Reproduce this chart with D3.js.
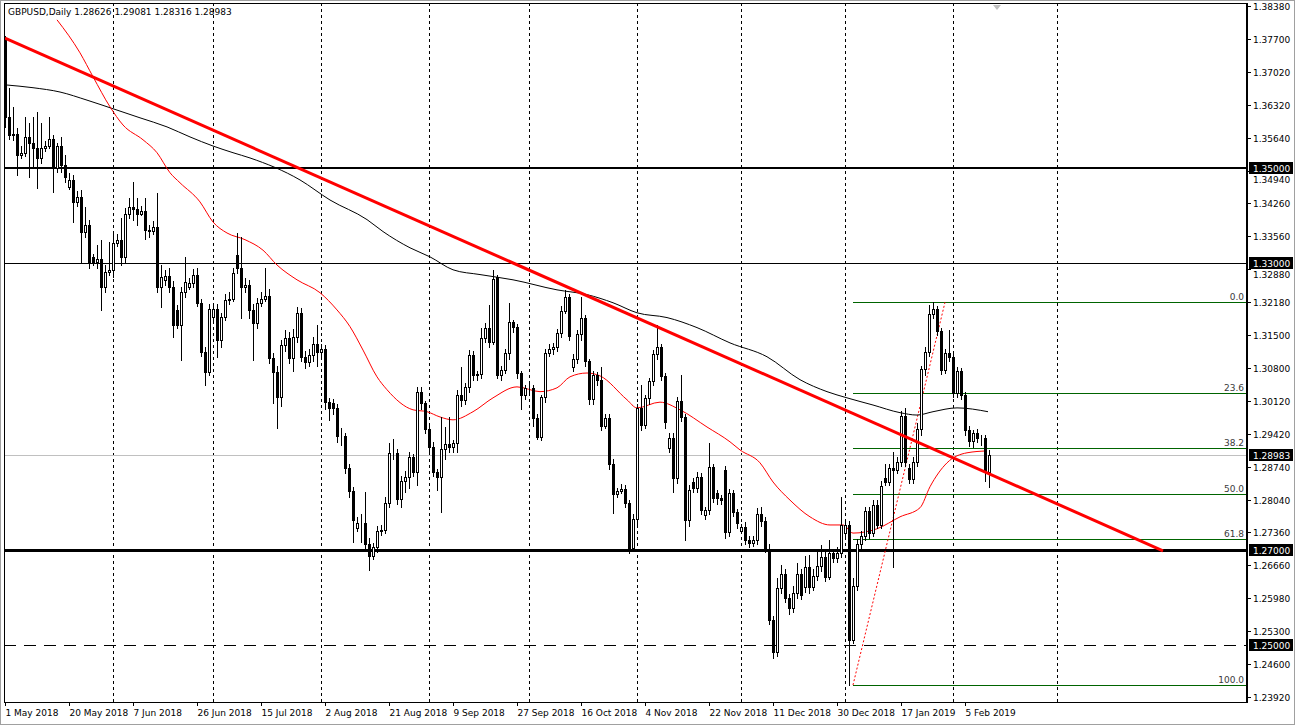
<!DOCTYPE html>
<html><head><meta charset="utf-8">
<script src="https://cdn.jsdelivr.net/npm/d3@7"></script>
<style>body{margin:0;background:#fff;}svg{display:block;font-family:"DejaVu Sans",sans-serif;}</style>
</head><body><svg id="c" width="1295" height="725"></svg>
<script>
const symbolTitle = "GBPUSD,Daily  1.28626 1.29081 1.28316 1.28983";
const opens = [1.3771,1.3605,1.3568,1.3570,1.3527,1.3531,1.3564,1.3552,1.3541,1.3520,
1.3541,1.3545,1.3560,1.3499,1.3545,1.3505,1.3460,1.3474,1.3428,1.3438,
1.3365,1.3380,1.3313,1.3302,1.3308,1.3250,1.3281,1.3285,1.3342,1.3348,
1.3313,1.3403,1.3417,1.3413,1.3403,1.3409,1.3369,1.3367,1.3376,1.3250,
1.3264,1.3272,1.3250,1.3202,1.3171,1.3239,1.3250,1.3258,1.3275,1.3217,
1.3114,1.3072,1.3187,1.3204,1.3139,1.3187,1.3223,1.3225,1.3317,1.3289,
1.3250,1.3254,1.3202,1.3175,1.3217,1.3225,1.3231,1.3101,1.3072,1.3019,
1.3128,1.3143,1.3101,1.3145,1.3196,1.3103,1.3093,1.3107,1.3131,1.3114,
1.3120,1.3009,1.3007,1.2997,1.2938,1.2938,1.2871,1.2823,1.2745,1.2756,
1.2756,1.2713,1.2688,1.2705,1.2739,1.2741,1.2798,1.2903,1.2903,1.2806,
1.2844,1.2852,1.2894,1.2863,1.3030,1.3007,1.2953,1.2915,1.2863,1.2852,
1.2911,1.2921,1.2915,1.2923,1.3024,1.3013,1.3040,1.3107,1.3065,1.3068,
1.3143,1.3164,1.3135,1.3270,1.3065,1.3076,1.3111,1.3176,1.3166,1.3070,
1.3024,1.3038,1.3038,1.2976,1.2936,1.3019,1.3111,1.3120,1.3124,1.3153,
1.3200,1.3229,1.3082,1.3099,1.3151,1.3185,1.3095,1.3015,1.3065,1.3055,
1.2959,1.2976,1.2880,1.2817,1.2823,1.2827,1.2798,1.2704,1.2764,1.2997,
1.2961,1.3017,1.3053,1.3109,1.3124,1.3063,1.2913,1.2934,1.2850,1.3011,
1.2978,1.2762,1.2842,1.2829,1.2852,1.2773,1.2783,1.2873,1.2819,1.2808,
1.2867,1.2737,1.2819,1.2779,1.2740,1.2748,1.2720,1.2714,1.2720,1.2775,
1.2760,1.2701,1.2553,1.2486,1.2620,1.2649,1.2599,1.2579,1.2610,1.2649,
1.2622,1.2664,1.2622,1.2645,1.2666,1.2685,1.2643,1.2693,1.2683,1.2693,
1.2735,1.2752,1.2511,1.2624,1.2712,1.2729,1.2781,1.2735,1.2794,1.2752,
1.2850,1.2842,1.2871,1.2867,1.2884,1.2980,1.2871,1.2848,1.2884,1.2953,
1.3078,1.3114,1.3194,1.3204,1.3158,1.3076,1.3111,1.3103,1.3028,1.3074,
1.3024,1.2951,1.2928,1.2944,1.2934,1.2934,1.28626];
const highs = [1.3775,1.3667,1.3627,1.3583,1.3545,1.3606,1.3593,1.3606,1.3616,1.3593,
1.3556,1.3606,1.3568,1.3552,1.3564,1.3527,1.3489,1.3485,1.3450,1.3453,
1.3418,1.3391,1.3320,1.3338,1.3349,1.3295,1.3345,1.3366,1.3360,1.3395,
1.3415,1.3437,1.3470,1.3437,1.3420,1.3437,1.3380,1.3388,1.3447,1.3296,
1.3285,1.3290,1.3262,1.3212,1.3250,1.3313,1.3268,1.3287,1.3290,1.3225,
1.3125,1.3215,1.3215,1.3215,1.3196,1.3235,1.3240,1.3290,1.3363,1.3355,
1.3268,1.3265,1.3215,1.3228,1.3240,1.3290,1.3245,1.3112,1.3085,1.3140,
1.3160,1.3155,1.3162,1.3209,1.3205,1.3115,1.3120,1.3145,1.3171,1.3130,
1.3128,1.3018,1.3015,1.3005,1.2955,1.2945,1.2880,1.2832,1.2768,1.2775,
1.2821,1.2725,1.2715,1.2750,1.2752,1.2810,1.2924,1.2932,1.2912,1.2855,
1.2865,1.2905,1.2900,1.3040,1.3041,1.3012,1.2960,1.2925,1.2870,1.2978,
1.2957,1.2978,1.2930,1.3035,1.3083,1.3050,1.3118,1.3115,1.3075,1.3165,
1.3175,1.3213,1.3286,1.3275,1.3085,1.3120,1.3217,1.3180,1.3172,1.3075,
1.3045,1.3048,1.3045,1.2985,1.3025,1.3120,1.3130,1.3132,1.3162,1.3210,
1.3244,1.3235,1.3110,1.3160,1.3229,1.3192,1.3100,1.3075,1.3072,1.3083,
1.2985,1.2985,1.2890,1.2830,1.2838,1.2835,1.2805,1.2775,1.3005,1.3045,
1.3025,1.3060,1.3118,1.3171,1.3130,1.3070,1.2945,1.2945,1.3020,1.3066,
1.2985,1.2835,1.2850,1.2862,1.2860,1.2790,1.2923,1.2880,1.2825,1.2815,
1.2875,1.2828,1.2825,1.2785,1.2755,1.2758,1.2728,1.2728,1.2788,1.2790,
1.2768,1.2712,1.2562,1.2640,1.2668,1.2660,1.2608,1.2625,1.2672,1.2660,
1.2688,1.2690,1.2660,1.2700,1.2710,1.2695,1.2720,1.2700,1.2705,1.2811,
1.2760,1.2760,1.2640,1.2722,1.2740,1.2790,1.2790,1.2805,1.2805,1.2845,
1.2880,1.2880,1.2905,1.2895,1.2990,1.2997,1.2880,1.2895,1.2965,1.3085,
1.3125,1.3213,1.3219,1.3210,1.3165,1.3120,1.3160,1.3110,1.3082,1.3080,
1.3030,1.2960,1.2950,1.2952,1.2940,1.2940,1.29081];
const lows = [1.3585,1.3560,1.3558,1.3485,1.3520,1.3525,1.3480,1.3501,1.3458,1.3510,
1.3535,1.3540,1.3449,1.3490,1.3490,1.3470,1.3455,1.3386,1.3420,1.3300,
1.3355,1.3290,1.3295,1.3290,1.3202,1.3240,1.3275,1.3270,1.3335,1.3295,
1.3300,1.3395,1.3390,1.3380,1.3400,1.3350,1.3355,1.3360,1.3240,1.3209,
1.3255,1.3240,1.3145,1.3165,1.3097,1.3230,1.3245,1.3250,1.3210,1.3105,
1.3045,1.3065,1.3180,1.3104,1.3125,1.3180,1.3215,1.3220,1.3280,1.3185,
1.3240,1.3185,1.3097,1.3165,1.3210,1.3220,1.3090,1.3008,1.2955,1.3000,
1.3115,1.3090,1.3075,1.3135,1.3095,1.3080,1.3085,1.3095,1.3085,1.3105,
1.2995,1.2972,1.2985,1.2925,1.2920,1.2860,1.2810,1.2717,1.2740,1.2717,
1.2700,1.2658,1.2680,1.2695,1.2730,1.2735,1.2790,1.2890,1.2795,1.2790,
1.2820,1.2830,1.2855,1.2835,1.2995,1.2945,1.2905,1.2855,1.2825,1.2780,
1.2890,1.2905,1.2905,1.2905,1.3000,1.3005,1.3030,1.3055,1.3055,1.3060,
1.3135,1.3125,1.3130,1.3060,1.3055,1.3070,1.3100,1.3155,1.3060,1.2995,
1.3015,1.3030,1.2960,1.2932,1.2930,1.3010,1.3105,1.3110,1.3115,1.3145,
1.3195,1.3140,1.3075,1.3090,1.3140,1.3085,1.3005,1.3005,1.3045,1.2950,
1.2955,1.2870,1.2777,1.2810,1.2818,1.2790,1.2694,1.2698,1.2755,1.2950,
1.2955,1.3005,1.3045,1.3100,1.3055,1.2955,1.2905,1.2822,1.2840,1.2970,
1.2721,1.2750,1.2820,1.2820,1.2775,1.2765,1.2775,1.2800,1.2795,1.2795,
1.2725,1.2728,1.2770,1.2745,1.2735,1.2712,1.2705,1.2708,1.2712,1.2750,
1.2695,1.2545,1.2474,1.2478,1.2610,1.2590,1.2565,1.2570,1.2600,1.2598,
1.2612,1.2610,1.2615,1.2636,1.2655,1.2635,1.2638,1.2675,1.2675,1.2685,
1.2728,1.2418,1.2505,1.2615,1.2700,1.2720,1.2725,1.2728,1.2745,1.2745,
1.2835,1.2835,1.2664,1.2860,1.2875,1.2875,1.2840,1.2840,1.2875,1.2940,
1.3065,1.3105,1.3185,1.3150,1.3068,1.3070,1.3095,1.3020,1.3020,1.3015,
1.2940,1.2918,1.2915,1.2925,1.2920,1.2845,1.28316];
const closes = [1.3605,1.3568,1.3570,1.3527,1.3531,1.3564,1.3552,1.3541,1.3520,1.3541,
1.3545,1.3560,1.3499,1.3545,1.3505,1.3480,1.3474,1.3428,1.3438,1.3365,
1.3380,1.3302,1.3302,1.3308,1.3250,1.3281,1.3285,1.3342,1.3348,1.3313,
1.3403,1.3417,1.3413,1.3403,1.3409,1.3369,1.3367,1.3376,1.3250,1.3270,
1.3272,1.3250,1.3171,1.3171,1.3239,1.3260,1.3258,1.3275,1.3217,1.3114,
1.3072,1.3204,1.3204,1.3139,1.3187,1.3223,1.3225,1.3279,1.3289,1.3250,
1.3254,1.3202,1.3175,1.3217,1.3225,1.3231,1.3101,1.3072,1.3019,1.3128,
1.3143,1.3101,1.3145,1.3196,1.3103,1.3093,1.3107,1.3131,1.3114,1.3120,
1.3009,1.2997,1.2997,1.2938,1.2938,1.2871,1.2823,1.2762,1.2756,1.2756,
1.2713,1.2688,1.2705,1.2739,1.2741,1.2798,1.2903,1.2903,1.2806,1.2844,
1.2852,1.2894,1.2863,1.3030,1.3007,1.2953,1.2915,1.2863,1.2852,1.2911,
1.2921,1.2915,1.2923,1.3024,1.3013,1.3040,1.3107,1.3065,1.3068,1.3143,
1.3164,1.3135,1.3266,1.3065,1.3076,1.3111,1.3176,1.3166,1.3070,1.3024,
1.3038,1.3038,1.2976,1.2936,1.3019,1.3111,1.3120,1.3124,1.3153,1.3200,
1.3229,1.3147,1.3099,1.3151,1.3185,1.3095,1.3015,1.3065,1.3055,1.2959,
1.2976,1.2880,1.2817,1.2823,1.2827,1.2798,1.2704,1.2764,1.2997,1.2961,
1.3017,1.3053,1.3109,1.3124,1.3063,1.2967,1.2934,1.2850,1.3011,1.2978,
1.2762,1.2825,1.2829,1.2852,1.2783,1.2783,1.2873,1.2808,1.2808,1.2804,
1.2737,1.2819,1.2779,1.2756,1.2748,1.2720,1.2714,1.2720,1.2775,1.2760,
1.2701,1.2553,1.2486,1.2620,1.2649,1.2599,1.2579,1.2610,1.2649,1.2605,
1.2664,1.2622,1.2645,1.2666,1.2685,1.2643,1.2693,1.2683,1.2693,1.2752,
1.2752,1.2511,1.2624,1.2712,1.2729,1.2781,1.2735,1.2794,1.2752,1.2834,
1.2842,1.2871,1.2867,1.2884,1.2980,1.2884,1.2848,1.2884,1.2953,1.3078,
1.3114,1.3194,1.3204,1.3158,1.3076,1.3111,1.3103,1.3028,1.3074,1.3024,
1.2951,1.2928,1.2944,1.2934,1.2934,1.2863,1.28983];

const maSlowIdx = [0,7,13.75,20.5,27,33.75,40.5,46.25,52,57,61.25,73.75,81.25,90.5,94.5,101.25,106.25,112,118.75,127,138,145.5,152,158,165.5,173,181.25,190.5,198.75,205.5,210.5,217,223.75,228,232,238,245.75];
const maSlowVal = [1.3673,1.3667,1.3658,1.3641,1.3623,1.3604,1.3585,1.3564,1.3545,1.3531,1.3520,1.3474,1.3432,1.3391,1.3366,1.3332,1.3313,1.3286,1.3276,1.3265,1.3244,1.3234,1.3217,1.3196,1.3186,1.3165,1.3133,1.3104,1.3056,1.3031,1.3018,1.3003,1.2987,1.2982,1.2989,1.2997,1.2989];
const maFastIdx = [13,18.75,22,26.25,29.5,34.5,38,41.25,43.75,48.75,52,55.5,60,64.5,68,73,78.75,83,86.25,89.5,93,95.5,102,105.5,108.75,112,117,122,128,133.75,138,141.25,145.5,148.75,155.5,158,163.75,168.75,175.5,181.25,183.75,188.75,192,196.25,201.25,206.25,209.5,212,218,223.75,228.75,231.25,235.5,240.5,245.5];
const maFastVal = [1.3809,1.3740,1.3690,1.3627,1.3589,1.3558,1.3531,1.3489,1.3468,1.3428,1.3386,1.3363,1.3349,1.3327,1.3296,1.3265,1.3238,1.3202,1.3167,1.3118,1.3062,1.3035,1.2993,1.2989,1.2978,1.2972,1.2989,1.3018,1.3041,1.3031,1.3039,1.3062,1.3070,1.3064,1.3014,1.2997,1.3009,1.2993,1.2957,1.2926,1.2909,1.2882,1.2842,1.2804,1.2769,1.2752,1.2752,1.2735,1.2744,1.2769,1.2788,1.2832,1.2882,1.2903,1.2907];

const trendIdx = [0, 289.5], trendVal = [1.3771, 1.2698];
const fibLevels = ["0.0","23.6","38.2","50.0","61.8","100.0"];
const fibRatios = [0,0.236,0.382,0.5,0.618,1];
const fibHigh = 1.3218, fibLow = 1.2417, fibStartIdx = 212, fibHighIdx = 235;
const levels = [1.35, 1.33, 1.27, 1.25];
const levelLabels = ["1.35000","1.33000","1.27000","1.25000"];
const currentPrice = 1.28983, currentLabel = "1.28983";
const priceTicks = ["1.38380","1.37700","1.37020","1.36320","1.35640","1.34940","1.34260","1.33560","1.32880","1.32180","1.31500","1.30800","1.30120","1.29420","1.28740","1.28040","1.27360","1.26660","1.25980","1.25300","1.24600","1.23920"];
const dateLabels = ["1 May 2018","20 May 2018","7 Jun 2018","26 Jun 2018","15 Jul 2018","2 Aug 2018","21 Aug 2018","9 Sep 2018","27 Sep 2018","16 Oct 2018","4 Nov 2018","22 Nov 2018","11 Dec 2018","30 Dec 2018","17 Jan 2019","5 Feb 2019"];
const dateLabelIdx = [0,16,32,48,64,80,96,112,128,144,160,176,192,208,224,240];
const gridIdx = [27,52,79,106,131,158,184,210,237,263];

const svg = d3.select("#c");
const L = 4, R = 1247, T = 3, B = 702;
const x = d3.scaleLinear().domain([0, 310]).range([5, 5 + 4*310]);
const y = d3.scaleLinear().domain([1.2392, 1.3838]).range([697, 6]);
const px = v => Math.round(v) + 0.5;

svg.append("rect").attr("x",0.5).attr("y",0.5).attr("width",1294).attr("height",724).attr("fill","#fff").attr("stroke","#a0a0a0");
svg.append("defs").append("clipPath").attr("id","pc").append("rect").attr("x",L).attr("y",T).attr("width",R-L).attr("height",B-T);
const g = svg.append("g").attr("clip-path","url(#pc)");

gridIdx.forEach(i => g.append("line").attr("x1",px(x(i))).attr("x2",px(x(i))).attr("y1",T).attr("y2",B)
  .attr("stroke","#000").attr("stroke-dasharray","3,3").attr("shape-rendering","crispEdges"));

const lvlStyle = [{w:2,d:null},{w:1,d:null},{w:3,d:null},{w:1,d:"12,8"}];
levels.forEach((v,k) => {
  const yy = Math.round(y(v)) + (lvlStyle[k].w%2?0.5:0);
  const l = g.append("line").attr("x1",L).attr("x2",R).attr("y1",yy).attr("y2",yy)
    .attr("stroke","#000").attr("stroke-width",lvlStyle[k].w).attr("shape-rendering","crispEdges");
  if (lvlStyle[k].d) l.attr("stroke-dasharray",lvlStyle[k].d);
});
g.append("line").attr("x1",L).attr("x2",R).attr("y1",px(y(currentPrice))).attr("y2",px(y(currentPrice))).attr("stroke","#c0c0c0").attr("shape-rendering","crispEdges");

fibRatios.forEach((r,k) => {
  const v = fibHigh - r*(fibHigh-fibLow);
  const yy = px(y(v));
  g.append("line").attr("x1",Math.round(x(fibStartIdx))).attr("x2",R).attr("y1",yy).attr("y2",yy).attr("stroke","#006400").attr("shape-rendering","crispEdges");
  g.append("text").attr("x",R-3).attr("y",yy-3).attr("text-anchor","end").attr("font-size",9).attr("fill","#3a3a3a").text(fibLevels[k]);
});
g.append("line").attr("x1",x(fibStartIdx)).attr("y1",y(fibLow)).attr("x2",x(fibHighIdx)).attr("y2",y(fibHigh))
  .attr("stroke","#ff0000").attr("stroke-dasharray","2,2");

const line = d3.line().x(d=>x(d[0])).y(d=>y(d[1])).curve(d3.curveMonotoneX);
g.append("path").attr("d", line(maSlowIdx.map((v,i)=>[v,maSlowVal[i]]))).attr("fill","none").attr("stroke","#000").attr("stroke-width",1);
g.append("path").attr("d", line(maFastIdx.map((v,i)=>[v,maFastVal[i]]))).attr("fill","none").attr("stroke","#ff0000").attr("stroke-width",1);

closes.forEach((c,i) => {
  const o = opens[i], h = highs[i], lo = lows[i];
  const cx = px(x(i));
  g.append("line").attr("x1",cx).attr("x2",cx).attr("y1",Math.round(y(h))).attr("y2",Math.round(y(lo))+1).attr("stroke","#000").attr("shape-rendering","crispEdges");
  const top = Math.round(y(Math.max(o,c))), bot = Math.round(y(Math.min(o,c)));
  g.append("rect").attr("x",cx-1).attr("y",top+0.5).attr("width",2).attr("height",Math.max(bot-top,0))
    .attr("fill", c >= o ? "#fff" : "#000").attr("stroke","#000").attr("shape-rendering","crispEdges");
});

g.append("line").attr("x1",x(trendIdx[0])).attr("y1",y(trendVal[0])).attr("x2",x(trendIdx[1])).attr("y2",y(trendVal[1]))
  .attr("stroke","#ff0000").attr("stroke-width",3);

svg.append("rect").attr("x",L+0.5).attr("y",T+0.5).attr("width",R-L-1).attr("height",B-T).attr("fill","none").attr("stroke","#000");
svg.append("line").attr("x1",R+0.5).attr("x2",R+0.5).attr("y1",T).attr("y2",B+1).attr("stroke","#000");

svg.append("text").attr("x",8).attr("y",15).attr("font-size",9).attr("fill","#000").text(symbolTitle);
svg.append("path").attr("d","M993,5 L1001,5 L997,10 Z").attr("fill","#c0c0c0");

const tagYs = levels.concat([currentPrice]).map(v => Math.round(y(v)));
priceTicks.forEach((t,k) => {
  const yy = Math.round(6 + k*(691/21));
  svg.append("line").attr("x1",R).attr("x2",R+4).attr("y1",yy+0.5).attr("y2",yy+0.5).attr("stroke","#000");
  let ty = yy + 4;
  const near = tagYs.find(v => Math.abs(v - yy) < 11);
  if (near !== undefined) ty = Math.max(ty, near + 15);
  svg.append("text").attr("x",R+6).attr("y",ty).attr("font-size",9).attr("fill","#000").text(t);
});
const tag = (v,label) => {
  const yy = Math.round(y(v));
  svg.append("rect").attr("x",R+2).attr("y",yy-6).attr("width",44).attr("height",12).attr("fill","#000");
  svg.append("text").attr("x",R+6).attr("y",yy+4).attr("font-size",9).attr("fill","#fff").text(label);
};
levels.forEach((v,k)=>tag(v, levelLabels[k]));
tag(currentPrice, currentLabel);

dateLabelIdx.forEach((i,k) => {
  const xx = px(x(i));
  svg.append("line").attr("x1",xx).attr("x2",xx).attr("y1",B).attr("y2",B+4).attr("stroke","#000");
  svg.append("text").attr("x",xx).attr("y",B+14).attr("font-size",9).attr("fill","#000").text(dateLabels[k]);
});
</script></body></html>
